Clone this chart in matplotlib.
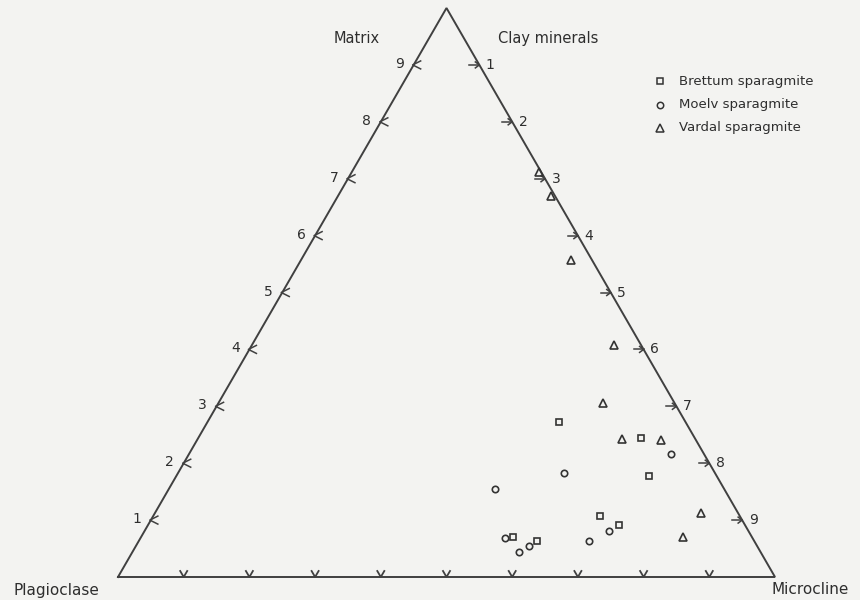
import numpy as np
import matplotlib
matplotlib.use("Agg")
import matplotlib.pyplot as plt

# compositions in percent: plagioclase, microcline, matrix (clay minerals)
brettum_plag = [19.3, 8.2, 10.3, 21.3, 19.2, 36.4, 33.1]
brettum_micr = [53.5, 67.4, 72.0, 68.0, 71.7, 56.6, 60.6]
brettum_matr = [27.2, 24.4, 17.7, 10.7, 9.1, 7.0, 6.3]

moelv_plag = [5.0, 23.0, 34.9, 37.7, 36.8, 34.7, 25.1, 21.2]
moelv_micr = [73.4, 58.7, 49.6, 55.5, 58.8, 59.8, 68.5, 70.7]
moelv_matr = [21.6, 18.3, 15.5, 6.8, 4.4, 5.5, 6.4, 8.1]

vardal_plag = [0.3, 0.6, 3.2, 4.1, 10.9, 11.2, 5.3, 5.6, 10.5]
vardal_micr = [28.5, 32.4, 41.1, 55.1, 58.5, 64.6, 70.6, 83.1, 82.5]
vardal_matr = [71.2, 67.0, 55.7, 40.8, 30.6, 24.2, 24.1, 11.3, 7.0]

tick_labels = ["1", "2", "3", "4", "5", "6", "7", "8", "9"]

H = np.sqrt(3) / 2
PX = 1 / 657.0  # one pixel in data units
ink = "#404040"
txt = "#2e2e2e"


def tern(plag, micr, matr):
    plag, micr, matr = map(np.asarray, (plag, micr, matr))
    s = plag + micr + matr
    t = matr / s
    m = micr / s
    return m + 0.5 * t, H * t


fig = plt.figure(figsize=(8.6, 6), dpi=100, facecolor="#f3f3f1")
ax = fig.add_axes([0, 0, 1, 1])
ax.set_facecolor("#f3f3f1")
ax.set_xlim(-118 * PX, 742 * PX)
ax.set_ylim(-23 * PX, 577 * PX)
ax.axis("off")

# triangle
ax.plot([0, 1, 0.5, 0], [0, 0, H, 0], color=ink, lw=1.4, solid_joinstyle="miter")

# ticks
for i, lab in enumerate(tick_labels):
    f = (i + 1) / 10
    # left side: "<"
    x, y = 0.5 * f, H * f
    ax.plot([x + 7 * PX, x - 1 * PX, x + 7 * PX], [y + 4 * PX, y, y - 4 * PX], color=ink, lw=1.1)
    ax.text(x - 14 * PX, y + 1 * PX, lab, ha="center", va="center", fontsize=10, color=txt)
    # right side: arrow
    x, y = 0.5 + 0.5 * f, H * (1 - f)
    ax.plot([x - 10 * PX, x], [y, y], color=ink, lw=1.1)
    ax.plot([x - 4 * PX, x, x - 4 * PX], [y + 3 * PX, y, y - 3 * PX], color=ink, lw=1.1)
    ax.text(x + 11 * PX, y, lab, ha="center", va="center", fontsize=10, color=txt)
    # bottom: "v"
    x = f
    ax.plot([x - 3.5 * PX, x, x + 3.5 * PX], [6 * PX, 0, 6 * PX], color=ink, lw=1.3)

# data
x, y = tern(brettum_plag, brettum_micr, brettum_matr)
ax.plot(x, y, "s", ms=4.3, mfc="none", mec="#333333", mew=1.2, ls="none")
x, y = tern(moelv_plag, moelv_micr, moelv_matr)
ax.plot(x, y, "o", ms=4.6, mfc="none", mec="#333333", mew=1.2, ls="none")
x, y = tern(vardal_plag, vardal_micr, vardal_matr)
ax.plot(x, y, "^", ms=5.5, mfc="none", mec="#333333", mew=1.2, ls="none")

# apex labels
ax.text(-62 * PX, -13 * PX, "Plagioclase", ha="center", va="center", fontsize=11, color=txt)
ax.text(692 * PX, -13 * PX, "Microcline", ha="center", va="center", fontsize=11, color=txt)
ax.text(239 * PX, 539 * PX, "Matrix", ha="center", va="center", fontsize=10.5, color=txt)
ax.text(430 * PX, 539 * PX, "Clay minerals", ha="center", va="center", fontsize=10.5, color=txt)

# legend
leg = [("s", 4.3, "Brettum sparagmite"), ("o", 4.6, "Moelv sparagmite"), ("^", 5.5, "Vardal sparagmite")]
for k, (mk, ms, name) in enumerate(leg):
    ly = (577 - (81 + 23.5 * k)) * PX
    ax.plot([542 * PX], [ly], mk, ms=ms, mfc="none", mec="#333333", mew=1.1)
    ax.text(561 * PX, ly, name, ha="left", va="center", fontsize=9.5, color=txt)

fig.savefig("out.png", dpi=100, facecolor=fig.get_facecolor())
